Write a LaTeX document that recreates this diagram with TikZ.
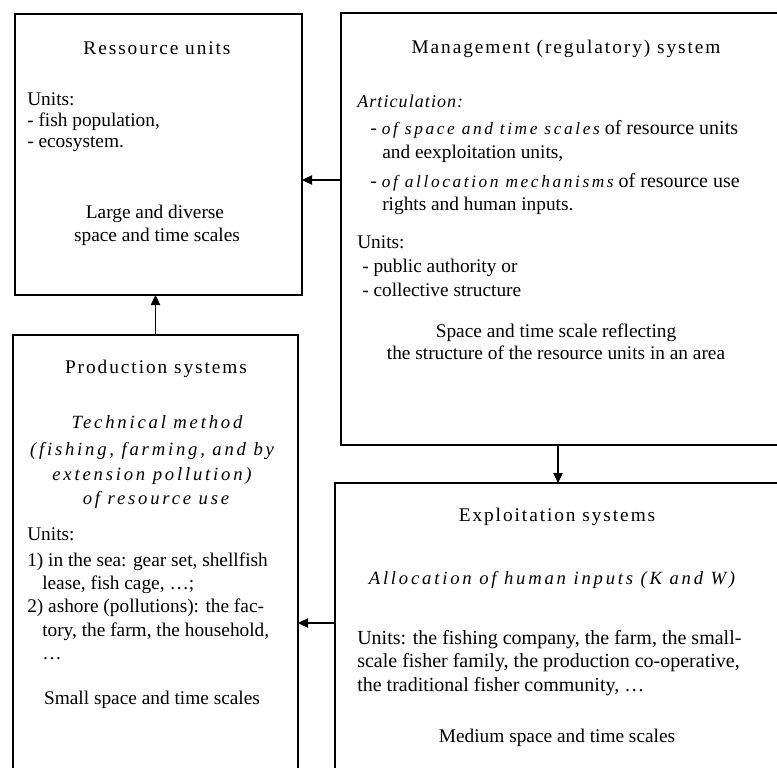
\documentclass[tikz,border=0pt]{standalone}
\usepackage{fontspec}
\setmainfont{Liberation Serif}
\usetikzlibrary{arrows.meta}
\newcommand\lsit[1]{{\itshape\addfontfeature{LetterSpace=15}#1}}
\newcommand\lsitm[1]{{\fontsize{13}{16}\selectfont\itshape\addfontfeature{LetterSpace=15}#1}}
\newcommand\ttlf{\addfontfeature{LetterSpace=10}}
\tikzset{
  box/.style={draw, line width=1.4pt, inner sep=0pt, outer sep=0pt, anchor=north west},
  arr/.style={line width=0.9pt, -{Triangle[length=7.5pt,width=7pt]}},
  tl/.style={anchor=base west, inner sep=0pt, font=\fontsize{14.5}{17}\selectfont},
  tlw/.style={anchor=base west, inner sep=0pt, font=\fontsize{15}{17}\selectfont},
  tc/.style={anchor=base, inner sep=0pt, font=\fontsize{14.5}{17}\selectfont},
  ti/.style={anchor=base, inner sep=0pt, font=\fontsize{14}{17}\selectfont},
  tt/.style={anchor=base, inner sep=0pt, font=\fontsize{14.5}{17}\selectfont\ttlf},
}
\begin{document}
\begin{tikzpicture}[x=0.75pt,y=-0.75pt]
\useasboundingbox (0,0) rectangle (777,767);
\clip (0,0) rectangle (777,767);
% boxes
\node[box, minimum width=215.25pt, minimum height=210.75pt] (res) at (15,14) {};
\node[box, minimum width=344.25pt, minimum height=324pt] (mgmt) at (341,13) {};
\node[box, minimum width=213.75pt, minimum height=348.75pt] (prod) at (13,335) {};
\node[box, minimum width=348.75pt, minimum height=237.75pt] (expl) at (335,483) {};
% connectors
\draw[arr] (prod.north) -- (prod.north |- res.south);
\draw[arr] (mgmt.west |- 0,180) -- (res.east |- 0,180);
\draw[arr] (mgmt.south -| 558,0) -- (expl.north -| 558,0);
\draw[arr] (expl.west |- 0,623) -- (prod.east |- 0,623);
% resource units
\node[tt] (r1) at (157,55) {Ressource units};
\node[tl] (r2) at (27,105) {Units:};
\node[tl] (r3) at (27,126) {- fish population,};
\node[tl] (r4) at (27,147) {- ecosystem.};
\node[tc] (r5) at (155,218) {Large and diverse};
\node[tc] (r6) at (157,241) {space and time scales};
% management
\node[tt] (m1) at (566,54) {Management (regulatory) system};
\node[tl] (m2) at (357,107) {{\fontsize{13.5}{16}\selectfont\itshape\addfontfeature{LetterSpace=6}Articulation:}};
\node[tlw] (m3) at (370,134) {- \lsitm{of space and time scales} of resource units};
\node[tl] (m4) at (382,158) {and eexploitation units,};
\node[tlw] (m5) at (370,187) {- \lsitm{of allocation mechanisms} of resource use};
\node[tl] (m6) at (382,210) {rights and human inputs.};
\node[tl] (m7) at (357,248) {Units:};
\node[tl] (m8) at (362,272) {- public authority or};
\node[tl] (m9) at (362,296) {- collective structure};
\node[tc] (m10) at (556,337) {Space and time scale reflecting};
\node[tc] (m11) at (556,359) {the structure of the resource units in an area};
% production
\node[tt] (p1) at (156,373) {Production systems};
\node[ti] (p2) at (157,428) {\lsit{Technical method}};
\node[ti] (p3) at (152,455) {\lsit{(fishing, farming, and by}};
\node[ti] (p4) at (152,480) {\lsit{extension pollution)}};
\node[ti] (p5) at (156,504) {\lsit{of resource use}};
\node[tl] (p6) at (27,540) {Units:};
\node[tl] (p7) at (27,566) {1) in the sea: gear set, shellfish};
\node[tl] (p8) at (42,589) {lease, fish cage, \dots;};
\node[tl] (p9) at (27,612) {2) ashore (pollutions): the fac-};
\node[tl] (p10) at (42,636) {tory, the farm, the household,};
\node[tl] (p11) at (42,659) {\dots};
\node[tc] (p12) at (152,704) {Small space and time scales};
% exploitation
\node[tt] (e1) at (557,521) {Exploitation systems};
\node[ti] (e2) at (552,584) {\lsit{Allocation of human inputs (K and W)}};
\node[tlw] (e3) at (357,644) {Units: the fishing company, the farm, the small-};
\node[tlw] (e4) at (357,667) {scale fisher family, the production co-operative,};
\node[tlw] (e5) at (357,691) {the traditional fisher community, \dots};
\node[tc] (e6) at (557,742) {Medium space and time scales};
\end{tikzpicture}
\end{document}
